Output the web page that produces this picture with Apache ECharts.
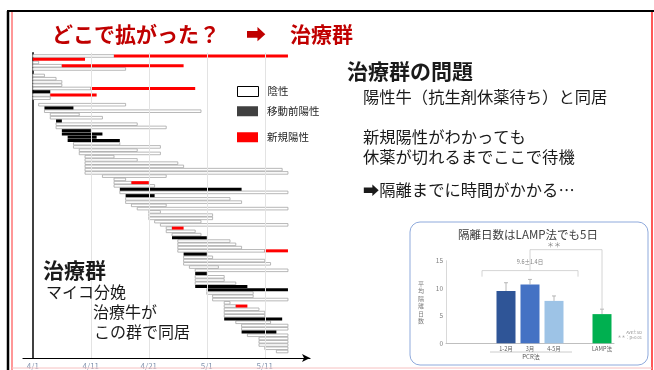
<!DOCTYPE html>
<html>
<head>
<meta charset="utf-8">
<script src="https://cdn.jsdelivr.net/npm/echarts@6/dist/echarts.min.js"></script>
<style>
html,body{margin:0;padding:0;background:#fff;}
#main{width:654px;height:370px;}
</style>
</head>
<body>
<div id="main"></div>
<script>
// ---------- Gantt (days from 4/1) ----------
const tickDays = [0, 10, 20, 30, 40];
const tickLabels = ['4/1', '4/11', '4/21', '5/1', '5/11'];
const legendNames = ['陰性', '移動前陽性', '新規陽性'];

// [row, startDay, endDay]
const negativeBars = [
  [0,0,14],[2,0,1],[3,0,5],[4,0,16],[6,0,2],[7,0,4],[8,0,5],[9,0,5],[10,0,10],
  [12,0,3],[13,0,3],[15,1,16],[17,2,29],[18,3,8],[19,3,12],[21,4,18],[22,4,23],
  [27,7,15],[28,7,22],[29,8,18],[30,8,22],[31,9,14],[32,9,18],[33,9,25],[34,9,26],
  [35,9,43],[36,9,44],[37,12,23],[38,14,16],[39,14,17],[40,14,21],[42,15,44],
  [44,16,34],[45,16,36],[46,17,23],[47,18,44],[48,20,22],[49,20,31],[50,20,31],
  [51,21,29],[52,22,44],[53,23,24],[54,23,28],[55,24,29],[57,25,34],[58,25,35],
  [59,25,36],[60,25,40],[62,26,31],[63,26,40],[64,26,41],[65,27,32],[66,28,44],
  [68,28,33],[69,28,33],[70,28,35],[73,30,38],[74,31,38],[75,31,44],[76,33,34],
  [77,33,35],[78,33,39],[79,33,40],[80,33,40],[82,35,41],[83,36,44],[84,36,44],
  [86,37,44],[87,39,44],[88,39,44],[89,39,44],[90,40,44],[91,42,44]
];
const preMoveBars = [
  [11,0,3],[16,2,7],[20,4,5],[23,5,10],[24,5,12],[25,6,11],[26,6,15],[41,15,36],
  [43,16,21],[56,24,30],[61,26,30],[67,28,30],[71,28,37],[72,30,44],[81,33,43],[85,36,42]
];
const newPositiveBars = [
  [0,14,44],[1,0,9],[3,5,26],[10,10,28],[12,3,11],[39,17,20],[53,24,26],[60,40,44],[77,35,37]
];

// ---------- Inset: isolation days ----------
const isoCategories = ['', '', '1-2月', '3月', '4-5月', '', 'LAMP法'];
const isoMeans = [null, null, 9.5, 10.7, 7.7, null, 5.3];
const isoSD = [null, null, 1.5, 0.9, 0.9, null, 0.9];
const isoColors = [null, null, '#2f5597', '#4472c4', '#9dc3e6', null, '#00b050'];
// [xStart, xEnd, yTop, yLeftEnd, yRightEnd] in category index / value units
const brackets = [[1.46, 4.67, 13.2, 12.1, 12.1], [3, 6, 17, 13.2, 6.05]];
const bracketLabels = [[2.86, 14.7, '9.6±1.4日'], [4.25, 17.9, '＊＊']];

const FONT = '"Noto Sans CJK JP", "Noto Sans", sans-serif';
const chart = echarts.init(document.getElementById('main'));

function ganttRender(fill, stroke, h) {
  return function (params, api) {
    const row = api.value(0), s = api.value(1), e = api.value(2);
    const p1 = api.coord([s, row]), p2 = api.coord([e, row]);
    return {
      type: 'rect',
      shape: { x: p1[0], y: p1[1] - h / 2, width: p2[0] - p1[0], height: h },
      style: { fill: fill, stroke: stroke, lineWidth: stroke ? 0.8 : 0 }
    };
  };
}

const isoBarData = isoMeans.map((v, i) => v == null ? null : { value: v, itemStyle: { color: isoColors[i] } });
const isoErrData = [];
isoMeans.forEach((v, i) => { if (v != null) isoErrData.push([i, v, isoSD[i]]); });

function txt(text, x, y, size, opts) {
  opts = opts || {};
  return {
    type: 'text', x: x, y: y, z: 10,
    style: {
      text: text, font: (opts.bold ? 'bold ' : '') + size + 'px ' + FONT,
      fill: opts.color || '#1a1a1a', textAlign: opts.align || 'left', textVerticalAlign: 'middle'
    }
  };
}
function line(x1, y1, x2, y2, color, w) {
  return { type: 'line', z: 10, shape: { x1: x1, y1: y1, x2: x2, y2: y2 }, style: { stroke: color, lineWidth: w } };
}
function legendAt(name, top, style) {
  return {
    data: [{ name: name, icon: 'rect', itemStyle: style }],
    left: 232, top: top, itemWidth: 21, itemHeight: 10,
    textStyle: { fontSize: 10.5, color: '#262626', padding: [0, 0, 0, 4] }
  };
}

const option = {
  animation: false,
  backgroundColor: '#fff',
  textStyle: { fontFamily: FONT },
  grid: [
    { left: 23, right: 344, top: 52.74, bottom: 10.8, containLabel: false },
    { left: 446, right: 40, top: 260.7, bottom: 26.7, containLabel: false }
  ],
  xAxis: [
    {
      type: 'value', gridIndex: 0, min: -1.7, max: 47.8,
      axisLine: { onZero: false, symbol: ['none', 'arrow'], symbolSize: [6, 8], lineStyle: { color: '#000', width: 1.2 } },
      axisTick: { show: false },
      splitLine: { show: false },
      axisLabel: {
        customValues: tickDays, margin: 4, fontSize: 8, color: '#8496b0',
        formatter: function (v) { const k = tickDays.indexOf(v); return k >= 0 ? tickLabels[k] : ''; }
      }
    },
    {
      type: 'category', gridIndex: 1, data: isoCategories,
      axisLine: { lineStyle: { color: '#bfbfbf' } },
      axisTick: { show: false },
      axisLabel: { interval: 0, fontSize: 5.5, color: '#595959', margin: 3 }
    }
  ],
  yAxis: [
    {
      type: 'value', gridIndex: 0, inverse: true, min: -1, max: 93,
      axisLine: { show: true, onZero: true, lineStyle: { color: '#000', width: 1.5 } },
      axisTick: { show: false }, axisLabel: { show: false }, splitLine: { show: false }
    },
    {
      type: 'value', gridIndex: 1, min: 0, max: 15, interval: 5,
      name: '平\n均\n隔\n離\n日\n数', nameLocation: 'middle', nameRotate: 0, nameGap: 22,
      nameTextStyle: { fontSize: 6, color: '#7f7f7f', lineHeight: 7.5 },
      axisLine: { show: true, lineStyle: { color: '#d9d9d9' } },
      axisTick: { show: false }, splitLine: { show: false },
      axisLabel: { fontSize: 6.5, color: '#7f7f7f', margin: 3 }
    }
  ],
  legend: [
    legendAt(legendNames[0], 81, { color: '#fff', borderColor: '#000', borderWidth: 1 }),
    legendAt(legendNames[1], 101, { color: '#404040' }),
    legendAt(legendNames[2], 127, { color: '#ff0000' })
  ],
  series: [
    {
      name: legendNames[0], type: 'custom', xAxisIndex: 0, yAxisIndex: 0,
      renderItem: ganttRender('#ffffff', '#a6a6a6', 2.6),
      encode: { x: [1, 2], y: 0 }, data: negativeBars,
      itemStyle: { color: '#fff', borderColor: '#000' },
      markLine: {
        silent: true, symbol: 'none', label: { show: false },
        lineStyle: { color: '#e3e3e3', type: 'solid', width: 1 },
        data: tickDays.slice(1).map(d => ({ xAxis: d }))
      }
    },
    {
      name: legendNames[1], type: 'custom', xAxisIndex: 0, yAxisIndex: 0,
      renderItem: ganttRender('#000000', null, 3),
      encode: { x: [1, 2], y: 0 }, data: preMoveBars, itemStyle: { color: '#404040' }
    },
    {
      name: legendNames[2], type: 'custom', xAxisIndex: 0, yAxisIndex: 0,
      renderItem: ganttRender('#ff0000', null, 3),
      encode: { x: [1, 2], y: 0 }, data: newPositiveBars, itemStyle: { color: '#ff0000' }
    },
    {
      name: 'iso', type: 'bar', xAxisIndex: 1, yAxisIndex: 1, barWidth: 19, data: isoBarData
    },
    {
      name: 'err', type: 'custom', xAxisIndex: 1, yAxisIndex: 1, data: isoErrData,
      renderItem: function (params, api) {
        const c = api.value(0), m = api.value(1), sd = api.value(2);
        const p0 = api.coord([c, m]), p1 = api.coord([c, m + sd]);
        return { type: 'group', children: [
          { type: 'line', shape: { x1: p0[0], y1: p0[1], x2: p1[0], y2: p1[1] }, style: { stroke: '#a6a6a6', lineWidth: 0.8 } },
          { type: 'line', shape: { x1: p1[0] - 2, y1: p1[1], x2: p1[0] + 2, y2: p1[1] }, style: { stroke: '#a6a6a6', lineWidth: 0.8 } }
        ] };
      }
    },
    {
      name: 'brackets', type: 'custom', xAxisIndex: 1, yAxisIndex: 1, data: brackets, clip: false,
      renderItem: function (params, api) {
        const a = api.value(0), b = api.value(1), t = api.value(2), l = api.value(3), r = api.value(4);
        const pts = [api.coord([a, l]), api.coord([a, t]), api.coord([b, t]), api.coord([b, r])];
        return { type: 'polyline', shape: { points: pts }, style: { stroke: '#c9c9c9', lineWidth: 0.8, fill: null } };
      }
    },
    {
      name: 'bracketLabels', type: 'custom', xAxisIndex: 1, yAxisIndex: 1, data: bracketLabels, clip: false,
      renderItem: function (params, api) {
        const p = api.coord([api.value(0), api.value(1)]);
        const isStar = bracketLabels[params.dataIndex][2] === '＊＊';
        return { type: 'text', x: p[0], y: p[1], style: {
          text: bracketLabels[params.dataIndex][2], font: (isStar ? 7 : 5.5) + 'px ' + FONT,
          fill: '#7f7f7f', textAlign: 'center', textVerticalAlign: 'middle' } };
      }
    }
  ],
  graphic: [
    // slide frame
    line(7, 11, 654, 11, '#000', 2),
    line(8, 11, 8, 370, '#000', 2.5),
    line(12, 12, 12, 370, '#ff3030', 1),
    line(652, 12, 652, 370, '#ff2020', 1.5),
    line(12, 368, 652, 368, '#f6c0c0', 1),
    // title
    txt('どこで拡がった？', 52, 34, 21, { bold: true, color: '#c00000' }),
    txt('➡', 246, 34, 20, { bold: true, color: '#c00000' }),
    txt('治療群', 290, 34, 21, { bold: true, color: '#c00000' }),
    // right text block
    txt('治療群の問題', 347, 71, 21, { bold: true }),
    txt('陽性牛（抗生剤休薬待ち）と同居', 363, 97, 16.3),
    txt('新規陽性がわかっても', 363, 137, 16.3),
    txt('休薬が切れるまでここで待機', 363, 157, 16.3),
    txt('➡隔離までに時間がかかる…', 363, 190, 16.3),
    // bottom left block
    txt('治療群', 43, 270, 21, { bold: true }),
    txt('マイコ分娩', 46, 292, 16),
    txt('治療牛が', 93, 312, 16),
    txt('この群で同居', 94, 332, 16),
    // inset frame
    { type: 'rect', z: 0, shape: { x: 410, y: 222, width: 238, height: 143, r: 10 },
      style: { fill: 'transparent', stroke: '#8faadc', lineWidth: 1 } },
    txt('隔離日数はLAMP法でも5日', 528, 235, 11.5, { align: 'center', color: '#404040' }),
    line(490, 352, 572, 352, '#bfbfbf', 0.8),
    txt('PCR法', 531, 357, 6, { align: 'center', color: '#595959' }),
    txt('Ave±SD', 642, 332.5, 4, { align: 'right', color: '#8c8c8c' }),
    txt('＊＊：p<0.01', 642, 337, 4, { align: 'right', color: '#8c8c8c' })
  ]
};
chart.setOption(option);
</script>
</body>
</html>
